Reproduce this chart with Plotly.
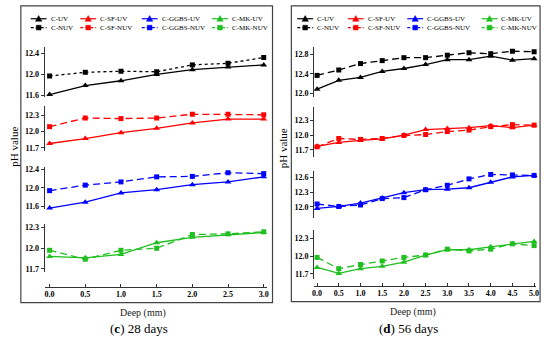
import plotly.graph_objects as go

W, H = 550, 344

# ---------------- data ----------------
depth_28 = [0.0, 0.5, 1.0, 1.5, 2.0, 2.5, 3.0]
depth_56 = [0.0, 0.5, 1.0, 1.5, 2.0, 2.5, 3.0, 3.5, 4.0, 4.5, 5.0]

c_uv_28 = [11.62, 11.79, 11.88, 12.00, 12.09, 12.14, 12.18]
c_nuv_28 = [11.97, 12.04, 12.06, 12.05, 12.18, 12.21, 12.32]
sf_uv_28 = [11.78, 11.87, 11.98, 12.06, 12.16, 12.23, 12.23]
sf_nuv_28 = [12.09, 12.25, 12.24, 12.25, 12.32, 12.32, 12.31]
ggbs_uv_28 = [11.56, 11.69, 11.89, 11.96, 12.07, 12.13, 12.24]
ggbs_nuv_28 = [11.94, 12.06, 12.13, 12.24, 12.25, 12.33, 12.31]
mk_uv_28 = [11.88, 11.86, 11.91, 12.08, 12.16, 12.20, 12.23]
mk_nuv_28 = [11.97, 11.84, 11.97, 12.00, 12.20, 12.21, 12.24]

c_uv_56 = [12.09, 12.27, 12.33, 12.45, 12.51, 12.59, 12.69, 12.69, 12.76, 12.68, 12.71]
c_nuv_56 = [12.37, 12.48, 12.61, 12.67, 12.73, 12.73, 12.78, 12.83, 12.81, 12.86, 12.85]
sf_uv_56 = [11.77, 11.85, 11.89, 11.92, 12.00, 12.11, 12.13, 12.15, 12.19, 12.15, 12.20]
sf_nuv_56 = [11.76, 11.93, 11.91, 11.93, 11.99, 12.01, 12.07, 12.10, 12.17, 12.21, 12.20]
ggbs_uv_56 = [11.97, 12.01, 12.08, 12.18, 12.29, 12.35, 12.36, 12.39, 12.50, 12.61, 12.64]
ggbs_nuv_56 = [12.06, 12.01, 12.04, 12.17, 12.19, 12.35, 12.44, 12.57, 12.66, 12.65, 12.64]
mk_uv_56 = [11.81, 11.71, 11.79, 11.83, 11.90, 12.02, 12.11, 12.11, 12.16, 12.21, 12.25]
mk_nuv_56 = [11.98, 11.79, 11.86, 11.92, 11.98, 12.02, 12.12, 12.09, 12.12, 12.21, 12.18]

mixes = ["C", "C-SF", "C-GGBS", "C-MK"]
mix_colors = ["#000000", "#FF0000", "#0000FF", "#1FBF1F"]

uv_28 = [c_uv_28, sf_uv_28, ggbs_uv_28, mk_uv_28]
nuv_28 = [c_nuv_28, sf_nuv_28, ggbs_nuv_28, mk_nuv_28]
uv_56 = [c_uv_56, sf_uv_56, ggbs_uv_56, mk_uv_56]
nuv_56 = [c_nuv_56, sf_nuv_56, ggbs_nuv_56, mk_nuv_56]

yticks_28 = [[11.6, 12.0, 12.4], [11.7, 12.0, 12.3], [11.6, 12.0, 12.4], [11.7, 12.0, 12.3]]
yticks_56 = [[12.0, 12.4, 12.8], [11.7, 12.0, 12.3], [12.0, 12.3, 12.6], [11.7, 12.0, 12.3]]

captions = ["(<b>c</b>) 28 days", "(<b>d</b>) 56 days"]
x_title = "Deep (mm)"
y_title = "pH value"

# ---------------- layout helpers (pixel -> paper) ----------------
def fx(p):
    return p / W

def fy(p):
    return 1 - p / H

SERIF = "Liberation Serif"

panels = [
    dict(x=depth_28, uv=uv_28, nuv=nuv_28, yticks=yticks_28,
         xdom=(43, 267), xrange=(-0.07, 3.04),
         ydoms=[(47, 97), (107, 152), (168, 211), (226, 275)],
         yranges=[(11.581, 12.512), (11.645, 12.464), (11.542, 12.464), (11.653, 12.358)],
         frame=(19, 5, 273, 306), xline=290,
         leg_text=[47, 97, 159, 230],
         ytitle=(12, 148), xtitle=(142, 317), caption=(138, 332),
         nuv_dash=["3px,3px", "7px,4px", "7px,4px", "7px,4px"]),
    dict(x=depth_56, uv=uv_56, nuv=nuv_56, yticks=yticks_56,
         xdom=(315, 539), xrange=(-0.068, 5.046),
         ydoms=[(47, 97), (108, 158), (172, 220), (232, 282)],
         yranges=[(11.94, 12.94), (11.56, 12.56), (11.78, 12.74), (11.617, 12.45)],
         frame=(292, 5, 543, 305), xline=289,
         leg_text=[316, 367, 427, 502],
         ytitle=(283, 149), xtitle=(415, 316), caption=(410, 332),
         nuv_dash=["7px,4px", "7px,4px", "7px,4px", "7px,4px"]),
]

fig = go.Figure()
layout = dict(
    width=W, height=H,
    margin=dict(l=0, r=0, t=0, b=0),
    paper_bgcolor="white", plot_bgcolor="rgba(0,0,0,0)",
    showlegend=False,
    font=dict(family=SERIF, color="black"),
)
shapes = []
annotations = []

for pi, p in enumerate(panels):
    xname = "x" if pi == 0 else "x2"
    xkey = "xaxis" if pi == 0 else "xaxis2"
    layout[xkey] = dict(
        domain=[fx(p["xdom"][0]), fx(p["xdom"][1])],
        range=list(p["xrange"]),
        anchor="free", position=fy(p["xline"]),
        showline=True, linecolor="#333333", linewidth=1,
        ticks="inside", ticklen=3, tickcolor="#333333",
        tickvals=p["x"], tickformat=".1f",
        tickfont=dict(family=SERIF, size=8, weight="bold", color="black"),
        showgrid=False, zeroline=False, fixedrange=True,
    )
    for r in range(4):
        idx = pi * 4 + r + 1
        yname = "y" if idx == 1 else f"y{idx}"
        ykey = "yaxis" if idx == 1 else f"yaxis{idx}"
        d0, d1 = p["ydoms"][r]
        layout[ykey] = dict(
            domain=[fy(d1), fy(d0)],
            range=list(p["yranges"][r]),
            anchor=xname,
            showline=True, linecolor="#333333", linewidth=1,
            ticks="outside", ticklen=3, tickcolor="#333333",
            tickvals=p["yticks"][r], tickformat=".1f",
            tickfont=dict(family=SERIF, size=8, weight="bold", color="black"),
            showgrid=False, zeroline=False, fixedrange=True,
        )
        col = mix_colors[r]
        fig.add_trace(go.Scatter(
            x=p["x"], y=p["uv"][r], xaxis=xname, yaxis=yname,
            name=f"{mixes[r]}-UV", mode="lines+markers",
            line=dict(color=col, width=1.3),
            marker=dict(symbol="triangle-up", size=6, color=col),
            cliponaxis=False,
        ))
        fig.add_trace(go.Scatter(
            x=p["x"], y=p["nuv"][r], xaxis=xname, yaxis=yname,
            name=f"{mixes[r]}-NUV", mode="lines+markers",
            line=dict(color=col, width=1.3, dash=p["nuv_dash"][r]),
            marker=dict(symbol="square", size=5, color=col),
            cliponaxis=False,
        ))

    # frame
    fx0, fy0, fx1, fy1 = p["frame"]
    shapes.append(dict(type="rect", xref="paper", yref="paper",
                       x0=fx(fx0), x1=fx(fx1), y0=fy(fy1), y1=fy(fy0),
                       line=dict(color="#444444", width=1.2), layer="below"))

    # legend (drawn as a key of samples + labels)
    for r in range(4):
        col = mix_colors[r]
        tx = p["leg_text"][r]
        cx = tx - 10
        for k, (suffix, rowy) in enumerate([("UV", 18), ("NUV", 27)]):
            shapes.append(dict(type="line", xref="paper", yref="paper",
                               x0=fx(cx - 8), x1=fx(cx + 8), y0=fy(rowy), y1=fy(rowy),
                               line=dict(color=col, width=1.2,
                                         dash="solid" if k == 0 else "3px,2px")))
            if k == 0:
                path = (f"M{fx(cx - 3.2)},{fy(rowy + 2.6)} L{fx(cx + 3.2)},{fy(rowy + 2.6)} "
                        f"L{fx(cx)},{fy(rowy - 3.2)} Z")
                shapes.append(dict(type="path", xref="paper", yref="paper", path=path,
                                   fillcolor=col, line=dict(color=col, width=0.5)))
            else:
                shapes.append(dict(type="rect", xref="paper", yref="paper",
                                   x0=fx(cx - 2.4), x1=fx(cx + 2.4),
                                   y0=fy(rowy + 2.4), y1=fy(rowy - 2.4),
                                   fillcolor=col, line=dict(color=col, width=0.5)))
            annotations.append(dict(xref="paper", yref="paper", x=fx(tx), y=fy(rowy),
                                    xanchor="left", yanchor="middle", showarrow=False,
                                    text=f"{mixes[r]}-{suffix}",
                                    font=dict(family=SERIF, size=7, color="black")))

    # titles
    annotations.append(dict(xref="paper", yref="paper", x=fx(p["ytitle"][0]), y=fy(p["ytitle"][1]),
                            text=y_title, textangle=-90, showarrow=False,
                            xanchor="center", yanchor="middle",
                            font=dict(family=SERIF, size=11, color="black")))
    annotations.append(dict(xref="paper", yref="paper", x=fx(p["xtitle"][0]), y=fy(p["xtitle"][1]),
                            text=x_title, showarrow=False, xanchor="center", yanchor="middle",
                            font=dict(family=SERIF, size=10, weight="normal", color="#222222")))
    annotations.append(dict(xref="paper", yref="paper", x=fx(p["caption"][0]), y=fy(p["caption"][1]),
                            text=captions[pi], showarrow=False, xanchor="center", yanchor="middle",
                            font=dict(family=SERIF, size=13, color="black")))

layout["shapes"] = shapes
layout["annotations"] = annotations
fig.update_layout(**layout)

fig.write_html(
    "out.html",
    config={"displayModeBar": False, "staticPlot": True},
    post_script="document.body.style.margin='0';document.body.style.padding='0';",
)
